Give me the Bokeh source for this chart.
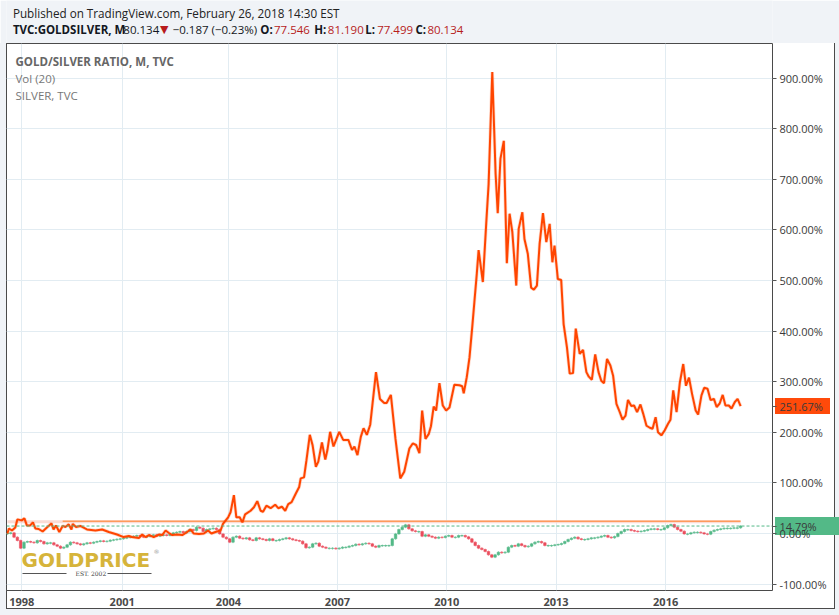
from bokeh.plotting import figure
from bokeh.layouts import column
from bokeh.models import (Range1d, FixedTicker, PrintfTickFormatter, Label, Span,
                          ColumnDataSource)
from bokeh.embed import file_html
from bokeh.resources import INLINE

# ---------------- data ----------------
# Gold/Silver ratio, percent scale (x = monthly bar index from Jul-1997)
ratio_bar = [
    0, 0.5, 1.5, 2.6, 3.3, 4.7, 5.6, 6.4, 7.5, 8.4,
    9.2, 10.3, 11.6, 13.0, 14.5, 15.2, 16.0, 17.1, 18.2, 19.1,
    20.2, 21.1, 21.5, 22.6, 24.0, 26.2, 29.0, 31.2, 33.4, 36.1,
    38.3, 40.0, 41.0, 43.3, 44.4, 45.5, 46.6, 48.2, 49.9, 51.0,
    52.1, 53.2, 54.3, 55.9, 57.6, 58.7, 60.3, 61.4, 63.1, 64.7,
    66.1, 67.2, 68.5, 70.2, 71.0, 72.7, 73.5, 74.6, 75.4, 76.5,
    77.4, 78.3, 80.1, 81.2, 82.3, 83.4, 84.2, 85.3, 86.7, 88.2,
    89.2, 90.4, 91.5, 92.5, 93.6, 95.0, 96.1, 96.6, 97.7, 98.5,
    99.6, 100.5, 101.6, 102.4, 103.6, 104.7, 105.4, 106.3, 107.4, 109.3,
    110.6, 112.3, 113.5, 114.3, 115.3, 116.4, 117.3, 118.4, 119.5, 121.4,
    122.7, 124.1, 124.9, 126.3, 127.8, 129.4, 130.7, 132.4, 133.5, 134.6,
    135.7, 136.6, 137.7, 138.8, 139.5, 140.4, 141.2, 142.3, 143.4, 144.5,
    145.6, 147.2, 148.9, 149.8, 150.3, 151.3, 152.2, 153.1, 153.8, 154.6,
    155.2, 156.6, 157.7, 158.5, 159.7, 160.8, 161.5, 162.4, 163.5, 164.5,
    165.4, 166.3, 167.6, 168.4, 169.6, 170.3, 171.4, 172.5, 173.4, 174.4,
    175.3, 176.4, 177.5, 178.6, 179.5, 180.2, 181.3, 182.4, 183.2, 184.3,
    185.2, 186.3, 187.2, 188.5, 189.6, 190.7, 191.5, 192.5, 193.6, 194.7,
    195.6, 196.5, 197.5, 198.6, 199.5, 200.6, 201.7, 202.6, 203.6, 204.4,
    205.5, 206.4, 207.4, 208.5, 209.4, 210.5, 211.6, 212.5, 213.5, 214.3,
    215.4, 216.5, 217.6, 218.4, 219.3, 220.4, 221.5, 222.6, 223.5, 224.5,
    225.5, 226.7, 227.5, 228.6, 229.5, 230.6, 231.6, 232.7, 233.6, 234.6,
    235.6, 236.5, 237.6, 238.5, 239.6, 240.5, 241.5,
]
ratio_pct = [
    0, 10, 6, 12, 28, 26, 30, 16, 16, 22,
    10, 9, 4, 12, 20, 8, 16, 3, 15, 13,
    18, 8, 19, 13, 15, 8, 6, 8, 3, -2,
    -7, -5, -7, -9, -2, -7, -3, -7, -2, -3,
    6, 1, -3, -2, -3, 1, 8, 0, -1, 0,
    6, 0, 3, 6, 19, 32, 42, 76, 32, 32,
    22, 38, 45, 52, 64, 45, 43, 55, 50, 57,
    50, 53, 45, 58, 62, 79, 92, 109, 111, 145,
    195, 175, 132, 142, 180, 146, 165, 201, 172, 201,
    185, 185, 165, 172, 155, 191, 208, 195, 215, 319,
    266, 258, 258, 274, 188, 109, 122, 168, 178, 175,
    159, 243, 187, 197, 212, 251, 243, 297, 253, 243,
    249, 294, 293, 291, 277, 309, 348, 408, 457, 513,
    560, 497, 612, 691, 912, 711, 633, 741, 776, 534,
    632, 596, 490, 602, 635, 582, 553, 486, 482, 490,
    573, 633, 576, 612, 536, 569, 503, 501, 414, 368,
    316, 317, 405, 355, 363, 319, 310, 304, 354, 319,
    302, 297, 345, 332, 312, 256, 240, 225, 233, 264,
    252, 253, 240, 255, 237, 213, 209, 207, 230, 200,
    194, 204, 217, 225, 283, 240, 299, 335, 292, 308,
    276, 243, 235, 273, 288, 286, 264, 266, 250, 257,
    274, 253, 253, 247, 260, 266, 251.67,
]

# Silver (TVC) monthly closes, percent scale
silver_close = [
    0, 1.3, -7.2, -13.8, -28.9, -17.1, -15.8, -17.1, -18.4, -13.8,
    -15.8, -20.4, -18.4, -18.4, -22.4, -25, -28.9, -27, -22.4, -17.1,
    -18.4, -20.4, -22.4, -20.4, -18.4, -19.1, -17.1, -15.8, -14.5, -15.8,
    -15.1, -13.2, -12.5, -11.2, -10.5, -9.2, -7.9, -6.6, -5.3, -3.9,
    -5.3, -7.2, -5.9, -3.9, -2.6, -5.3, -3.9, -2.6, -3.9, -1.3,
    1.3, 2.6, 3.9, 1.3, 3.9, 7.9, 5.9, 12.5, 10.5, 3.9,
    7.9, 9.2, 10.5, 7.9, -0.7, -7.2, -10.5, -17.1, -7.2, -5.3,
    -9.2, -10.5, -8.6,
    -12.5, -13.8, -8.6, -10.5, -11.8, -13.8, -10.5, -13.8, -13.8, -11.8,
    -10.5, -8.6, -10.5, -12.5, -13.8, -15.1, -20.4, -28.3, -27, -20.4,
    -19.1, -25, -27, -28.9, -28.9, -28.9, -30.3, -28.9, -27, -27,
    -25, -23.7, -21.1, -22.4, -20.4, -19.1, -20.4, -25, -27, -23.7,
    -23.7, -23.7, -23.7, -10.5, -0.7, 7.9, 12.5, 17.1, 9.2, 5.3,
    3.9, 3.9, -5.3, -2.6, -5.3, -7.2, -9.2, -7.2, -7.9, -5.3,
    -3.9, -7.2, -7.2, -3.9, -3.9, -6.6, -10.5, -17.1, -23.7, -28.9,
    -31.6, -35.5, -42.1, -46.7, -42.1, -36.8,
    -38.2, -36.8, -27, -23.7, -25, -20.4, -23.7, -26.3, -25, -20.4,
    -17.1, -15.8, -18.4, -23.7, -23.7, -23.7, -22.4, -21.7, -19.7, -15.8,
    -11.8, -9.2, -7.2, -10.5, -11.8, -11.8, -10.5, -8.6, -8.6, -7.2,
    -5.3, -3.9, -7.2, -8.6, -5.9, 0, 3.9, 7.9, 7.9, 5.9,
    4.6, 3.9, 4.6, 5.9, 7.9, 9.2, 9.2, 7.9, 7.9, 11.2,
    15.8, 17.8, 12.5, 7.9, 4.6, -0.7, -0.7, 1.3, 2.6, 2.6,
    1.3, -0.7, -1.3, 3.9, 6.6, 7.9, 9.2, 10.5, 10.5, 10.5,
    11.2, 11.2, 14.79,
]
silver_first_bar = 0
silver_last_bar = 241.5

vol_ma_level = 24.3          # Vol (20) moving-average level
vol_ma_start_bar = 18.2
vol_level = 23.5

year_ticks = [4.75, 37.8, 72.8, 108.7, 144.7, 180.7, 216.8]
year_labels = ["1998", "2001", "2004", "2007", "2010", "2013", "2016"]
pct_ticks = [-100, 0, 100, 200, 300, 400, 500, 600, 700, 800, 900]

last_ratio = ratio_pct[-1]
last_silver = silver_close[-1]

# ---------------- layout helpers (page pixel -> data) ----------------
X0, X1 = -0.3, 252.0
Y0, Y1 = -112.6, 968.4
FL, FR, FT, FB = 6, 772, 43, 590      # frame edges on the page
W, H = 839, 615
HEAD = FT                             # height of the header strip


def xd(px):
    return X0 + (px - FL) * (X1 - X0) / (FR - FL)


def yd(py):
    return Y1 - (py - FT) * (Y1 - Y0) / (FB - FT)


PX_PER_PCT = (FB - FT) / (Y1 - Y0)

FONT = "Open Sans"
EDGE = "#4a4a4a"
BG = "#f0f3f7"
RED = "#b71c1c"
TAG_RATIO = "#ff4a0a"
TAG_SILVER = "#53b987"

# ---------------- header strip ----------------
hdr = figure(width=W, height=HEAD, output_backend="svg", toolbar_location=None,
             x_range=Range1d(0, W), y_range=Range1d(HEAD, 0),
             x_axis_type=None, y_axis_type=None, min_border=0)
hdr.background_fill_color = BG
hdr.border_fill_color = BG
hdr.outline_line_color = None
hdr.xgrid.visible = False
hdr.ygrid.visible = False


def hlab(text, px, py, size="11.5px", color="#131722", style="normal", font=FONT):
    hdr.add_layout(Label(x=px, y=py, text=text, text_font=font, text_font_size=size,
                         text_color=color, text_font_style=style,
                         text_baseline="middle", text_align="left"))


hlab("Published on TradingView.com, February 26, 2018 14:30 EST", 7, 12, size="11.7px",
     color="#222222")
hlab("TVC:GOLDSILVER, M", 7, 29, style="bold")
hlab("80.134", 128, 29)
hlab("\u25BC", 168, 29, color=RED, font="DejaVu Sans", size="11px")
hlab("\u22120.187 (\u22120.23%)", 182, 29)
hlab("O:", 278, 29, style="bold")
hlab("77.546", 293, 29, color=RED)
hlab("H:", 337, 29, style="bold")
hlab("81.190", 352, 29, color=RED)
hlab("L:", 393, 29, style="bold")
hlab("77.499", 406, 29, color=RED)
hlab("C:", 448, 29, style="bold")
hlab("80.134", 461, 29, color=RED)

# ---------------- main chart ----------------
MH = H - HEAD
p = figure(width=W, height=MH, output_backend="svg", toolbar_location=None,
           x_range=Range1d(X0, X1), y_range=Range1d(Y0, Y1),
           y_axis_location="right",
           min_border_left=FL, min_border_top=0, min_border_right=W - FR,
           min_border_bottom=H - FB)


def tag_box(val, color, half_h, x_left, x_right):
    yc = (Y1 - val) * PX_PER_PCT
    return (f"linear-gradient({color},{color}) {x_left}px {yc - half_h:.1f}px / "
            f"{x_right - x_left}px {2 * half_h}px no-repeat, ")


OB = 608 - HEAD   # outer border bottom (main figure coords)
p.styles = {"background": (
    tag_box(last_ratio, TAG_RATIO, 8, 775, 830)
    + tag_box(last_silver, TAG_SILVER, 9, 775, 839)
    + f"linear-gradient({EDGE},{EDGE}) 834px 0px / 1px {OB + 1}px no-repeat, "
    f"linear-gradient({EDGE},{EDGE}) 6px {OB}px / 829px 1px no-repeat, "
    f"linear-gradient({EDGE},{EDGE}) 6px 0px / 1px {OB + 1}px no-repeat, "
    f"linear-gradient(#ffffff,#ffffff) 6px 0px / 829px {OB + 1}px no-repeat, "
    f"{BG}")}
p.border_fill_alpha = 0
p.background_fill_color = "white"
p.outline_line_color = EDGE
p.outline_line_width = 1

GRID = "#e2ecf2"
p.xgrid.grid_line_color = GRID
p.ygrid.grid_line_color = GRID
p.ygrid.ticker = FixedTicker(ticks=pct_ticks)

# right axis: regular ticks plus the two last-value tags
ya = p.yaxis[0]
ya.ticker = FixedTicker(ticks=pct_ticks + [last_ratio, last_silver])
ya.formatter = PrintfTickFormatter(format="%.2f%%")
ya.axis_line_color = None
ya.major_tick_out = 4
ya.major_tick_in = 0
ya.major_tick_line_color = "#555555"
ya.minor_tick_line_color = None
ya.major_label_text_font = FONT
ya.major_label_text_font_size = "11px"
ya.major_label_text_color = "#3a3a3a"
ya.major_label_standoff = 3

# bottom axis
xa = p.xaxis[0]
xa.ticker = FixedTicker(ticks=year_ticks)
xa.major_label_overrides = {t: l for t, l in zip(year_ticks, year_labels)}
xa.axis_line_color = None
xa.major_tick_line_color = None
xa.minor_tick_line_color = None
xa.major_label_text_font = FONT
xa.major_label_text_font_size = "11px"
xa.major_label_text_font_style = "bold"
xa.major_label_text_color = "#4a4a4a"
xa.major_label_standoff = 1

# ---------------- silver candles ----------------
n = len(silver_close)
step = (silver_last_bar - silver_first_bar) / (n - 1)
cx = [silver_first_bar + i * step for i in range(n)]
opens = [0] + silver_close[:-1]
tops = [max(o, c) for o, c in zip(opens, silver_close)]
bots = [min(o, c) for o, c in zip(opens, silver_close)]
bots = [b if t - b > 0.9 else t - 0.9 for t, b in zip(tops, bots)]
up = [c >= o for o, c in zip(opens, silver_close)]
colors = ["#53b987" if u else "#eb4d5c" for u in up]
wick_colors = ["#9fd3bd" if u else "#f3a6ae" for u in up]
src = ColumnDataSource(dict(x=cx, top=tops, bottom=bots, color=colors,
                            hi=[t + 2.0 for t in tops], lo=[b - 2.0 for b in bots],
                            wc=wick_colors))
p.segment(x0="x", x1="x", y0="lo", y1="hi", source=src, line_color="wc", line_width=1)
p.vbar(x="x", width=step * 0.78, top="top", bottom="bottom", source=src,
       fill_color="color", line_color="color", line_width=0.5)

# volume lines
p.line([silver_first_bar, silver_last_bar], [vol_level, vol_level], line_color="#f9d3ca",
       line_width=3, line_alpha=0.8)
p.line([vol_ma_start_bar, silver_last_bar], [vol_ma_level, vol_ma_level], line_color="#ff9a5c",
       line_width=1.6)

# last silver value dashed line
p.add_layout(Span(location=last_silver, dimension="width", line_color="#53b987",
                  line_dash="3 2", line_width=1))

# ---------------- ratio line ----------------
p.line(ratio_bar, ratio_pct, line_color="#ff4a00", line_width=3.5, line_alpha=0.2)
p.line(ratio_bar, ratio_pct, line_color="#ff4500", line_width=2)


# ---------------- in-chart texts ----------------
def lab(text, px, py, size="12px", color="#131722", style="normal", font=FONT):
    p.add_layout(Label(x=xd(px), y=yd(py), text=text, text_font=font,
                       text_font_size=size, text_color=color, text_font_style=style,
                       text_baseline="middle", text_align="left"))


lab("GOLD/SILVER RATIO, M, TVC", 15, 61, size="11.5px", color="#666666", style="bold")
lab("Vol (20)", 15, 78, size="11.5px", color="#777777")
lab("SILVER, TVC", 15, 95, size="11.5px", color="#777777")

# logo
lab("GOLDPRICE", 21, 559, size="20px", color="#d6b43a", style="bold", font="DejaVu Sans")
lab("\u00AE", 153, 551, size="6px", color="#999999", font="DejaVu Sans")
lab("EST. 2002", 75, 573, size="6px", color="#444444", font="DejaVu Serif")
p.segment(x0=[xd(22), xd(107)], x1=[xd(66), xd(151)], y0=[yd(573)] * 2, y1=[yd(573)] * 2,
          line_color="#555555", line_width=1)

open("out.html", "w").write(file_html(column(hdr, p, spacing=0), INLINE))
